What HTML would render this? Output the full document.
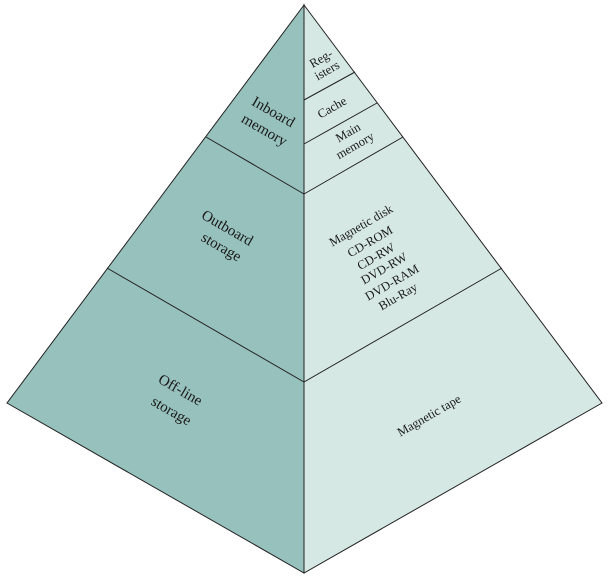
<!DOCTYPE html>
<html><head><style>body{margin:0;background:#fff}svg{display:block}</style></head>
<body>
<svg width="615" height="581" viewBox="0 0 615 581" xmlns="http://www.w3.org/2000/svg" font-family="Liberation Serif, serif" fill="#1a1a1a">
<polygon points="304,5 7,403 304,573" fill="#97c1bc" stroke="#222" stroke-width="1"/>
<polygon points="304,5 602,403 304,573" fill="#d6e8e3" stroke="#222" stroke-width="1"/>
<g stroke="#222" stroke-width="1" fill="none">
<line x1="206" y1="137" x2="304" y2="194"/>
<line x1="107" y1="268" x2="304" y2="382"/>
<line x1="304" y1="194" x2="403" y2="137"/>
<line x1="304" y1="382" x2="502" y2="268"/>
<line x1="304" y1="100" x2="355" y2="72"/>
<line x1="304" y1="144" x2="377" y2="103"/>
<line x1="304" y1="5" x2="304" y2="573"/>
</g>
<g text-anchor="middle" font-size="15">
<text transform="translate(271,116) rotate(30)">Inboard</text>
<text transform="translate(262,134) rotate(30)">memory</text>
<text transform="translate(225,232) rotate(30)">Outboard</text>
<text transform="translate(219,251) rotate(30)">storage</text>
<text transform="translate(178,394) rotate(30)">Off-line</text>
<text transform="translate(169,415) rotate(30)">storage</text>
</g>
<g text-anchor="middle" font-size="12.5">
<text transform="translate(323,62) rotate(-30)">Reg-</text>
<text transform="translate(329,74) rotate(-30)">isters</text>
<text transform="translate(334,111) rotate(-30)">Cache</text>
<text transform="translate(350,136) rotate(-30)">Main</text>
<text transform="translate(357,149) rotate(-30)">memory</text>
<text transform="translate(363,229) rotate(-30)">Magnetic disk</text>
<text transform="translate(372,245) rotate(-30)">CD-ROM</text>
<text transform="translate(378,260) rotate(-30)">CD-RW</text>
<text transform="translate(386,272) rotate(-30)">DVD-RW</text>
<text transform="translate(394,286) rotate(-30)">DVD-RAM</text>
<text transform="translate(400,300) rotate(-30)">Blu-Ray</text>
<text transform="translate(431,419) rotate(-30)">Magnetic tape</text>
</g>
</svg>
</body></html>
